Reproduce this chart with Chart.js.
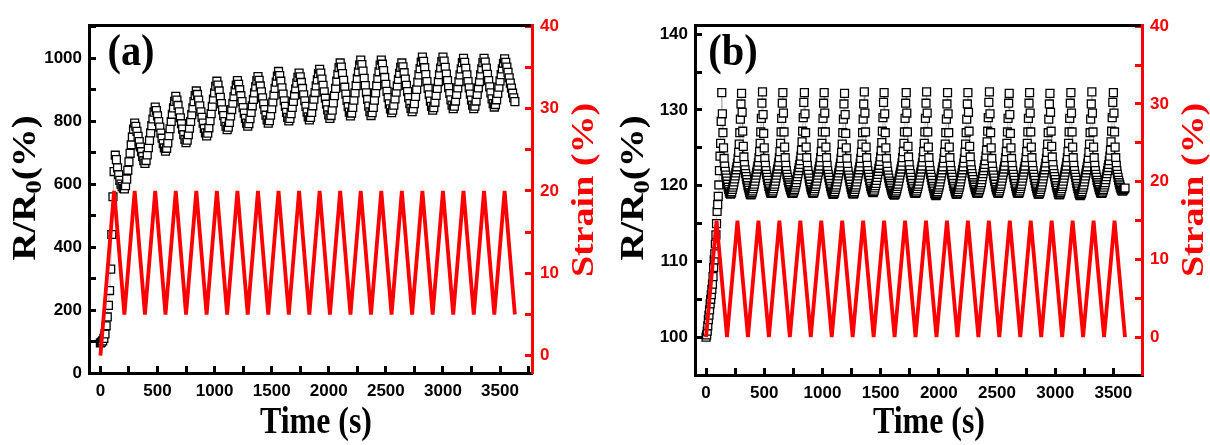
<!DOCTYPE html>
<html><head><meta charset="utf-8">
<script src="https://cdn.jsdelivr.net/npm/chart.js@4.4.1/dist/chart.umd.min.js"></script>
<style>
html,body{margin:0;padding:0;background:#fff;}
#wrap{position:relative;width:1210px;height:445px;background:#fff;}
.pane{position:absolute;top:0;width:605px;height:445px;}
</style></head><body>
<div id="wrap">
<div class="pane" style="left:0"><canvas id="ca" width="605" height="445"></canvas></div>
<div class="pane" style="left:605px"><canvas id="cb" width="605" height="445"></canvas></div>
</div>
<script>
// ---------------- DATA ----------------
// Panel (a): R/R0 (%) sampled in time (s)
const timeA = [
0,10,20,30,40,50,60,70,80,90,100,110,120,130,140,150,160,170,180,190,
200,210,220,230,240,250,260,270,280,290,300,310,320,330,340,350,360,370,380,390,
400,410,420,430,440,450,460,470,480,490,500,510,520,530,540,550,560,570,580,590,
600,610,620,630,640,650,660,670,680,690,700,710,720,730,740,750,760,770,780,790,
800,810,820,830,840,850,860,870,880,890,900,910,920,930,940,950,960,970,980,990,
1000,1010,1020,1030,1040,1050,1060,1070,1080,1090,1100,1110,1120,1130,1140,1150,1160,1170,1180,1190,
1200,1210,1220,1230,1240,1250,1260,1270,1280,1290,1300,1310,1320,1330,1340,1350,1360,1370,1380,1390,
1400,1410,1420,1430,1440,1450,1460,1470,1480,1490,1500,1510,1520,1530,1540,1550,1560,1570,1580,1590,
1600,1610,1620,1630,1640,1650,1660,1670,1680,1690,1700,1710,1720,1730,1740,1750,1760,1770,1780,1790,
1800,1810,1820,1830,1840,1850,1860,1870,1880,1890,1900,1910,1920,1930,1940,1950,1960,1970,1980,1990,
2000,2010,2020,2030,2040,2050,2060,2070,2080,2090,2100,2110,2120,2130,2140,2150,2160,2170,2180,2190,
2200,2210,2220,2230,2240,2250,2260,2270,2280,2290,2300,2310,2320,2330,2340,2350,2360,2370,2380,2390,
2400,2410,2420,2430,2440,2450,2460,2470,2480,2490,2500,2510,2520,2530,2540,2550,2560,2570,2580,2590,
2600,2610,2620,2630,2640,2650,2660,2670,2680,2690,2700,2710,2720,2730,2740,2750,2760,2770,2780,2790,
2800,2810,2820,2830,2840,2850,2860,2870,2880,2890,2900,2910,2920,2930,2940,2950,2960,2970,2980,2990,
3000,3010,3020,3030,3040,3050,3060,3070,3080,3090,3100,3110,3120,3130,3140,3150,3160,3170,3180,3190,
3200,3210,3220,3230,3240,3250,3260,3270,3280,3290,3300,3310,3320,3330,3340,3350,3360,3370,3380,3390,
3400,3410,3420,3430,3440,3450,3460,3470,3480,3490,3500,3510,3520,3530,3540,3550,3560,3570,3580,3590,
3600,3610,3620,3630];
const rRatioA = [
96,98,102,110,124,150,178,215,262,330,440,560,640,692,678,652,630,612,600,592,587,585,
595,616,644,671,698,725,750,775,794,784,768,752,735,718,703,688,675,666,
675,693,716,739,763,786,807,829,845,834,817,799,781,762,746,729,715,705,
714,731,754,776,799,822,842,863,879,867,850,830,811,792,775,757,742,732,
740,757,778,799,821,842,862,881,896,885,867,849,830,812,794,777,763,753,
762,779,802,824,847,870,890,911,927,915,896,876,856,836,818,799,784,773,
781,796,817,837,857,878,896,915,929,917,900,881,862,843,826,809,794,784,
792,808,828,849,869,890,909,928,942,930,912,893,874,855,837,819,804,794,
802,819,840,861,883,904,924,943,958,945,927,906,886,865,847,828,812,801,
809,824,844,863,883,903,921,939,953,941,923,904,884,865,847,829,814,804,
812,828,849,870,891,912,931,951,965,953,934,914,893,873,854,836,820,809,
818,835,858,881,904,927,949,970,985,972,951,930,908,886,866,846,829,817,
826,844,867,890,913,936,957,978,994,980,959,936,913,890,869,848,830,818,
827,844,867,890,913,936,957,978,994,981,961,939,917,895,875,855,839,827,
835,851,871,892,912,933,952,971,985,973,954,934,914,894,875,856,841,830,
839,856,879,901,924,947,967,988,1004,990,970,948,926,904,884,864,847,835,
843,860,882,904,926,948,969,989,1004,991,971,950,929,907,888,868,851,840,
848,864,885,906,926,947,966,986,1000,987,968,947,926,906,886,867,851,840,
848,864,885,906,926,947,966,986,1000,988,969,949,929,909,890,871,856,845,
853,868,888,908,928,948,966,984,998,987,972,955,938,921,905,889,874,862];
// Panel (a): applied strain (%) turning points
const strainTimeA = [0,120,210,300,390,480,570,660,750,840,930,1020,1110,1200,1290,1380,1470,1560,1650,1740,1830,1920,2010,2100,2190,2280,2370,2460,2550,2640,2730,2820,2910,3000,3090,3180,3270,3360,3450,3540,3630];
const strainA = [0,20,5,20,5,20,5,20,5,20,5,20,5,20,5,20,5,20,5,20,5,20,5,20,5,20,5,20,5,20,5,20,5,20,5,20,5,20,5,20,5];

// Panel (b): R/R0 (%) sampled in time (s)
const timeB = [
0,5,10,15,20,25,30,35,40,45,50,55,60,65,70,75,80,85,90,95,
100,105,110,115,120,125,130,135,140,145,150,155,160,165,170,175,180,185,190,195,
200,205,210,215,220,225,230,235,240,245,250,255,260,265,270,275,280,285,290,295,
300,305,310,315,320,325,330,335,340,345,350,355,360,365,370,375,380,385,390,395,
400,405,410,415,420,425,430,435,440,445,450,455,460,465,470,475,480,485,490,495,
500,505,510,515,520,525,530,535,540,545,550,555,560,565,570,575,580,585,590,595,
600,605,610,615,620,625,630,635,640,645,650,655,660,665,670,675,680,685,690,695,
700,705,710,715,720,725,730,735,740,745,750,755,760,765,770,775,780,785,790,795,
800,805,810,815,820,825,830,835,840,845,850,855,860,865,870,875,880,885,890,895,
900,905,910,915,920,925,930,935,940,945,950,955,960,965,970,975,980,985,990,995,
1000,1005,1010,1015,1020,1025,1030,1035,1040,1045,1050,1055,1060,1065,1070,1075,1080,1085,1090,1095,
1100,1105,1110,1115,1120,1125,1130,1135,1140,1145,1150,1155,1160,1165,1170,1175,1180,1185,1190,1195,
1200,1205,1210,1215,1220,1225,1230,1235,1240,1245,1250,1255,1260,1265,1270,1275,1280,1285,1290,1295,
1300,1305,1310,1315,1320,1325,1330,1335,1340,1345,1350,1355,1360,1365,1370,1375,1380,1385,1390,1395,
1400,1405,1410,1415,1420,1425,1430,1435,1440,1445,1450,1455,1460,1465,1470,1475,1480,1485,1490,1495,
1500,1505,1510,1515,1520,1525,1530,1535,1540,1545,1550,1555,1560,1565,1570,1575,1580,1585,1590,1595,
1600,1605,1610,1615,1620,1625,1630,1635,1640,1645,1650,1655,1660,1665,1670,1675,1680,1685,1690,1695,
1700,1705,1710,1715,1720,1725,1730,1735,1740,1745,1750,1755,1760,1765,1770,1775,1780,1785,1790,1795,
1800,1805,1810,1815,1820,1825,1830,1835,1840,1845,1850,1855,1860,1865,1870,1875,1880,1885,1890,1895,
1900,1905,1910,1915,1920,1925,1930,1935,1940,1945,1950,1955,1960,1965,1970,1975,1980,1985,1990,1995,
2000,2005,2010,2015,2020,2025,2030,2035,2040,2045,2050,2055,2060,2065,2070,2075,2080,2085,2090,2095,
2100,2105,2110,2115,2120,2125,2130,2135,2140,2145,2150,2155,2160,2165,2170,2175,2180,2185,2190,2195,
2200,2205,2210,2215,2220,2225,2230,2235,2240,2245,2250,2255,2260,2265,2270,2275,2280,2285,2290,2295,
2300,2305,2310,2315,2320,2325,2330,2335,2340,2345,2350,2355,2360,2365,2370,2375,2380,2385,2390,2395,
2400,2405,2410,2415,2420,2425,2430,2435,2440,2445,2450,2455,2460,2465,2470,2475,2480,2485,2490,2495,
2500,2505,2510,2515,2520,2525,2530,2535,2540,2545,2550,2555,2560,2565,2570,2575,2580,2585,2590,2595,
2600,2605,2610,2615,2620,2625,2630,2635,2640,2645,2650,2655,2660,2665,2670,2675,2680,2685,2690,2695,
2700,2705,2710,2715,2720,2725,2730,2735,2740,2745,2750,2755,2760,2765,2770,2775,2780,2785,2790,2795,
2800,2805,2810,2815,2820,2825,2830,2835,2840,2845,2850,2855,2860,2865,2870,2875,2880,2885,2890,2895,
2900,2905,2910,2915,2920,2925,2930,2935,2940,2945,2950,2955,2960,2965,2970,2975,2980,2985,2990,2995,
3000,3005,3010,3015,3020,3025,3030,3035,3040,3045,3050,3055,3060,3065,3070,3075,3080,3085,3090,3095,
3100,3105,3110,3115,3120,3125,3130,3135,3140,3145,3150,3155,3160,3165,3170,3175,3180,3185,3190,3195,
3200,3205,3210,3215,3220,3225,3230,3235,3240,3245,3250,3255,3260,3265,3270,3275,3280,3285,3290,3295,
3300,3305,3310,3315,3320,3325,3330,3335,3340,3345,3350,3355,3360,3365,3370,3375,3380,3385,3390,3395,
3400,3405,3410,3415,3420,3425,3430,3435,3440,3445,3450,3455,3460,3465,3470,3475,3480,3485,3490,3495,
3500,3505,3510,3515,3520,3525,3530,3535,3540,3545,3550,3555,3560,3565,3570,3575,3580,3585,3590,3595,
3600];
const rRatioB = [
100.0,100.3,100.8,101.5,102.3,102.9,103.6,104.4,105.0,105.6,106.3,107.0,108.0,109.2,110.2,111.0,112.3,113.5,115.0,116.6,117.5,118.6,120.1,122.0,123.9,125.6,128.5,132.3,
129.5,127.0,125.0,123.6,122.6,121.9,121.4,121.0,120.6,120.2,119.8,119.5,119.2,119.0,118.9,119.0,119.2,119.5,119.8,120.1,120.5,120.9,121.3,121.7,122.1,122.5,123.0,123.6,124.4,125.5,127.0,128.8,130.8,132.2,
129.7,127.2,125.2,123.8,122.8,122.1,121.6,121.2,120.8,120.4,120.0,119.7,119.4,119.1,118.9,118.8,118.9,119.1,119.3,119.6,119.9,120.2,120.6,121.0,121.4,121.8,122.2,122.6,123.1,123.7,124.5,125.6,127.1,128.9,130.9,132.4,
129.4,126.9,125.0,123.6,122.7,122.0,121.5,121.1,120.7,120.3,119.9,119.6,119.3,119.1,119.0,119.0,119.1,119.3,119.6,119.9,120.2,120.6,121.0,121.4,121.8,122.2,122.6,123.1,123.7,124.5,125.6,127.1,128.9,130.9,132.3,
129.6,127.1,125.1,123.7,122.7,122.0,121.5,121.1,120.7,120.4,120.1,119.8,119.5,119.3,119.1,119.0,119.0,119.1,119.3,119.5,119.8,120.1,120.4,120.8,121.2,121.6,122.0,122.4,122.8,123.3,123.9,124.7,125.8,127.2,129.0,131.0,132.3,
129.5,127.0,125.1,123.7,122.7,122.0,121.5,121.0,120.6,120.2,119.8,119.5,119.3,119.1,119.0,119.1,119.3,119.6,119.9,120.2,120.6,121.0,121.4,121.8,122.2,122.6,123.1,123.7,124.5,125.6,127.1,128.9,130.9,132.3,
129.6,127.1,125.1,123.7,122.7,122.0,121.5,121.1,120.7,120.3,119.9,119.6,119.3,119.1,118.9,118.9,119.0,119.2,119.5,119.8,120.1,120.5,120.9,121.3,121.7,122.1,122.5,123.0,123.6,124.4,125.5,127.0,128.8,130.8,132.2,
129.4,126.9,125.0,123.6,122.6,121.9,121.4,121.0,120.6,120.2,119.8,119.5,119.2,119.0,118.9,119.0,119.2,119.5,119.8,120.1,120.5,120.9,121.3,121.7,122.1,122.5,123.0,123.6,124.4,125.5,127.0,128.8,130.8,132.4,
129.6,127.1,125.1,123.7,122.7,122.0,121.5,121.1,120.7,120.3,119.9,119.6,119.4,119.2,119.1,119.2,119.4,119.7,120.0,120.3,120.7,121.1,121.5,121.9,122.3,122.7,123.2,123.8,124.6,125.7,127.2,129.0,131.0,132.3,
129.5,127.0,125.0,123.6,122.6,121.9,121.4,121.0,120.6,120.3,120.0,119.7,119.4,119.2,119.0,118.9,118.8,118.8,118.9,119.1,119.3,119.6,119.9,120.2,120.6,121.0,121.4,121.8,122.2,122.6,123.1,123.7,124.5,125.6,127.1,128.9,130.9,132.3,
129.6,127.1,125.2,123.8,122.8,122.1,121.6,121.1,120.7,120.3,119.9,119.6,119.3,119.1,119.0,119.0,119.1,119.3,119.6,119.9,120.2,120.6,121.0,121.4,121.8,122.2,122.6,123.1,123.7,124.5,125.6,127.1,128.9,130.9,132.4,
129.6,127.1,125.1,123.7,122.7,122.0,121.5,121.1,120.7,120.3,119.9,119.6,119.3,119.0,118.8,118.7,118.8,119.0,119.2,119.5,119.8,120.1,120.5,120.9,121.3,121.7,122.1,122.5,123.0,123.6,124.4,125.5,127.0,128.8,130.8,132.3,
129.5,127.0,125.1,123.7,122.7,122.0,121.5,121.1,120.7,120.3,119.9,119.6,119.3,119.1,118.9,118.9,119.0,119.2,119.5,119.8,120.1,120.5,120.9,121.3,121.7,122.1,122.5,123.0,123.6,124.4,125.5,127.0,128.8,130.8,132.3,
129.7,127.2,125.2,123.8,122.8,122.1,121.6,121.2,120.8,120.4,120.1,119.8,119.5,119.3,119.1,119.0,119.0,119.1,119.3,119.5,119.8,120.1,120.4,120.8,121.2,121.6,122.0,122.4,122.8,123.3,123.9,124.7,125.8,127.2,129.0,131.0,132.4,
129.5,127.0,125.0,123.6,122.6,121.9,121.4,121.0,120.6,120.2,119.8,119.5,119.3,119.1,119.0,119.1,119.3,119.6,119.9,120.2,120.6,121.0,121.4,121.8,122.2,122.6,123.1,123.7,124.5,125.6,127.1,128.9,130.9,132.2,
129.4,126.9,125.0,123.6,122.7,122.0,121.5,121.1,120.7,120.3,119.9,119.6,119.3,119.1,119.0,119.0,119.1,119.3,119.6,119.9,120.2,120.6,121.0,121.4,121.8,122.2,122.6,123.1,123.7,124.5,125.6,127.1,128.9,130.9,132.3,
129.6,127.1,125.1,123.7,122.7,122.0,121.5,121.1,120.7,120.3,119.9,119.6,119.3,119.1,118.9,118.9,119.0,119.2,119.5,119.8,120.1,120.5,120.9,121.3,121.7,122.1,122.5,123.0,123.6,124.4,125.5,127.0,128.8,130.8,132.2,
129.7,127.2,125.2,123.8,122.8,122.1,121.6,121.2,120.8,120.4,120.0,119.7,119.4,119.1,118.9,118.8,118.9,119.1,119.3,119.6,119.9,120.2,120.6,121.0,121.4,121.8,122.2,122.6,123.1,123.7,124.5,125.6,127.1,128.9,130.9,132.3,
129.6,127.1,125.1,123.7,122.7,122.0,121.5,121.1,120.7,120.3,119.9,119.6,119.3,119.0,118.8,118.7,118.8,119.0,119.2,119.5,119.8,120.1,120.5,120.9,121.3,121.7,122.1,122.5,123.0,123.6,124.4,125.5,127.0,128.8,130.8,132.4,
129.6,127.1,125.1,123.7,122.7,122.0,121.5,121.1,120.7,120.4,120.1,119.8,119.5,119.3,119.1,119.0,119.0,119.1,119.3,119.5,119.8,120.1,120.4,120.8,121.2,121.6,122.0,122.4,122.8,123.3,123.9,124.7,125.8,127.2,129.0,131.0,132.3,
129.6,127.1,125.1,123.7,122.7,122.0,121.5,121.1,120.7,120.4,120.1,119.8,119.6,119.4,119.3,119.3,119.4,119.5,119.6,119.7];
// Panel (b): applied strain (%) turning points
const strainTimeB = [0,90,180,270,360,450,540,630,720,810,900,990,1080,1170,1260,1350,1440,1530,1620,1710,1800,1890,1980,2070,2160,2250,2340,2430,2520,2610,2700,2790,2880,2970,3060,3150,3240,3330,3420,3510,3600];
const strainB = [0,15,0,15,0,15,0,15,0,15,0,15,0,15,0,15,0,15,0,15,0,15,0,15,0,15,0,15,0,15,0,15,0,15,0,15,0,15,0,15,0];

// Tick positions (major + minor) and the labelled ones
const timeTicks = [0,250,500,750,1000,1250,1500,1750,2000,2250,2500,2750,3000,3250,3500,3750];
const timeTickLabels = [0,500,1000,1500,2000,2500,3000,3500];
const rTicksA = [0,100,200,300,400,500,600,700,800,900,1000,1100];
const rTickLabelsA = [0,200,400,600,800,1000];
const rTicksB = [100,105,110,115,120,125,130,135,140];
const rTickLabelsB = [100,110,120,130,140];
const strainTicks = [0,5,10,15,20,25,30,35,40];
const strainTickLabels = [0,10,20,30,40];

// Texts
const panelLabels = ['(a)','(b)'];
const xTitle = 'Time (s)';
const rightTitle = 'Strain (%)';

// ---------------- RENDER ----------------
const SERIF = '"Liberation Serif","Times New Roman",serif';
const tickFont = {family:'"Liberation Sans",Arial,sans-serif', size:17, weight:'bold'};
const RED = '#ff0000';

function pts(xs, ys){ const n=Math.min(xs.length, ys.length); const out=[]; for(let i=0;i<n;i++) out.push({x:xs[i], y:ys[i]}); return out; }

function drawParts(ctx, parts, x, y, rot, sx, color){
  ctx.save();
  ctx.translate(x,y); ctx.scale(sx,1); ctx.rotate(rot);
  let w=0;
  parts.forEach(p=>{ ctx.font='bold '+p.size+'px '+SERIF; p.w=ctx.measureText(p.t).width; w+=p.w; });
  let cx=-w/2;
  ctx.fillStyle=color; ctx.textBaseline='alphabetic'; ctx.textAlign='left';
  parts.forEach(p=>{ ctx.font='bold '+p.size+'px '+SERIF; ctx.fillText(p.t, cx, p.dy||0); cx+=p.w; });
  ctx.restore();
}

const textPlugin = {
  id:'panelText',
  afterDraw(chart, args, o){
    const ctx = chart.ctx;
    drawParts(ctx, [{t:o.label, size:44}], o.labelX, o.labelY, 0, 0.92, '#000');
    drawParts(ctx, [{t:xTitle, size:38}], o.xTitleX, o.xTitleY, 0, 0.84, '#000');
    drawParts(ctx, [{t:'R/R', size:39},{t:'0', size:27, dy:7},{t:'(%)', size:39}], o.lTitleX, o.lTitleY, -Math.PI/2, 0.84, '#000');
    drawParts(ctx, [{t:rightTitle, size:38}], o.rTitleX, o.rTitleY, -Math.PI/2, 0.84, RED);
  }
};

function useTicks(list){ return s => { s.ticks = list.map(v => ({value:v})); }; }

function makeChart(id, cfg){
  const showIf = list => v => list.indexOf(v) >= 0 ? String(v) : '';
  return new Chart(document.getElementById(id), {
    type:'line',
    data:{datasets:[
      {label:'Strain', data:pts(cfg.sT, cfg.sV), yAxisID:'y2', borderColor:RED, borderWidth:3.8,
       pointRadius:0, tension:0, borderJoinStyle:'miter', order:0, fill:false},
      {label:'R/R0', data:pts(cfg.rT, cfg.rV), yAxisID:'y', borderColor:'rgba(140,140,140,0.7)', borderWidth:0.8,
       pointStyle:'rect', pointRadius:5.6, pointBorderColor:'#000', pointBackgroundColor:'#fff', pointBorderWidth:1.3,
       tension:0, order:1, fill:false}
    ]},
    options:{
      responsive:false, animation:false, events:[],
      layout:{padding:{left:0,right:0,top:14,bottom:0}},
      plugins:{legend:{display:false}, tooltip:{enabled:false}, panelText:cfg.text},
      scales:{
        x:{type:'linear', position:'bottom', min:cfg.xMin, max:cfg.xMax,
           afterFit:s=>{s.height=cfg.xH;}, afterBuildTicks:useTicks(timeTicks),
           ticks:{autoSkip:false, maxRotation:0, minRotation:0, padding:15,
                  color:'#000', font:tickFont, callback:showIf(timeTickLabels)},
           grid:{drawOnChartArea:false, tickLength:-7, tickWidth:3, tickColor:'#000'},
           border:{width:3, color:'#000'}},
        xTop:{type:'linear', position:'top', min:cfg.xMin, max:cfg.xMax,
           afterFit:s=>{s.height=0;},
           ticks:{display:false}, grid:{drawOnChartArea:false, drawTicks:false},
           border:{width:3, color:'#000'}},
        y:{type:'linear', position:'left', min:cfg.yMin, max:cfg.yMax,
           afterFit:s=>{s.width=cfg.yW;}, afterBuildTicks:useTicks(cfg.yTicks),
           ticks:{autoSkip:false, padding:14,
                  color:'#000', font:tickFont, callback:showIf(cfg.yLabels)},
           grid:{drawOnChartArea:false, tickLength:-7, tickWidth:3, tickColor:'#000'},
           border:{width:3, color:'#000'}},
        y2:{type:'linear', position:'right', min:cfg.y2Min, max:cfg.y2Max,
           afterFit:s=>{s.width=cfg.y2W;}, afterBuildTicks:useTicks(strainTicks),
           ticks:{autoSkip:false, padding:15,
                  color:RED, font:tickFont, callback:showIf(strainTickLabels)},
           grid:{drawOnChartArea:false, tickLength:-7, tickWidth:3, tickColor:RED},
           border:{width:3, color:RED}}
      }
    },
    plugins:[textPlugin]
  });
}

makeChart('ca', {
  rT:timeA, rV:rRatioA, sT:strainTimeA, sV:strainA,
  xMin:-100, xMax:3780, xH:72,
  yMin:0, yMax:1105, yW:89, yTicks:rTicksA, yLabels:rTickLabelsA,
  y2Min:-2.1, y2Max:40.1, y2W:73,
  text:{label:panelLabels[0], labelX:131, labelY:65, xTitleX:316, xTitleY:433,
        lTitleX:35, lTitleY:188, rTitleX:593, rTitleY:190}
});
makeChart('cb', {
  rT:timeB, rV:rRatioB, sT:strainTimeB, sV:strainB,
  xMin:-95, xMax:3746, xH:70,
  yMin:95, yMax:141.2, yW:90, yTicks:rTicksB, yLabels:rTickLabelsB,
  y2Min:-4.86, y2Max:40.12, y2W:68,
  text:{label:panelLabels[1], labelX:128, labelY:65, xTitleX:324, xTitleY:433,
        lTitleX:38, lTitleY:188, rTitleX:598, rTitleY:190}
});
</script>
</body></html>
